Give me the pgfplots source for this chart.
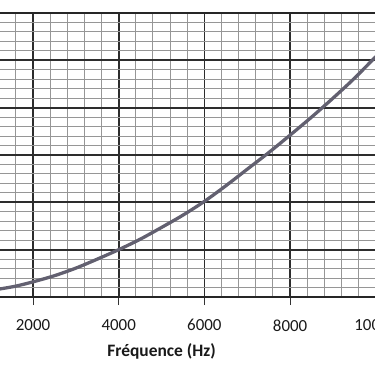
\documentclass[border=0pt]{standalone}
\usepackage{pgfplots}
\pgfplotsset{compat=1.18}
\usepackage{fontspec}
\setmainfont{Carlito}
\definecolor{curve}{RGB}{98,96,112}
\definecolor{majgrid}{RGB}{45,45,45}
\definecolor{mingrid}{RGB}{150,150,150}
\begin{document}
\begin{tikzpicture}
\begin{axis}[
  at={(0bp,0bp)}, anchor=south west,
  scale only axis, width=428.5bp, height=284bp,
  xmin=0, xmax=10000, ymin=0, ymax=6,
  xtick={0,2000,4000,6000,8000,10000}, ytick={0,1,2,3,4,5,6},
  scaled x ticks=false,
  minor x tick num=4, minor y tick num=4,
  grid=both,
  major grid style={draw=majgrid, line width=1.7pt},
  minor grid style={draw=mingrid, line width=1pt},
  axis line style={draw=black!85, line width=1.7pt},
  xtick pos=bottom, ytick pos=left,
  tick align=outside,
  major tick length=8bp, minor tick length=0pt,
  tick style={draw=black!80, line width=1pt},
  yticklabels={},
  /pgf/number format/assume math mode=true,
  /pgf/number format/1000 sep={},
  xticklabel style={font=\fontsize{17}{20}\selectfont, text=black!90, yshift=-11bp},
  xlabel={Fréquence (Hz)},
  xlabel style={font=\fontsize{17.5}{21}\selectfont\bfseries, text=black!90, yshift=-6bp},
]
\addplot[smooth, line width=3.3pt, color=curve] coordinates {
(1100,0.15) (1230,0.17) (1600,0.23) (2000,0.32) (2500,0.45) (3000,0.61)
(3500,0.80) (4000,1.00) (4500,1.22) (5000,1.47) (5500,1.73) (6000,2.02)
(6500,2.35) (7000,2.70) (7500,3.05) (8000,3.42) (8500,3.80) (9000,4.20)
(9500,4.62) (10000,5.08)
};
\end{axis}
\pgfresetboundingbox
\path[use as bounding box] (52.7bp,-69bp) rectangle (427.7bp,297bp);
\end{tikzpicture}
\end{document}
